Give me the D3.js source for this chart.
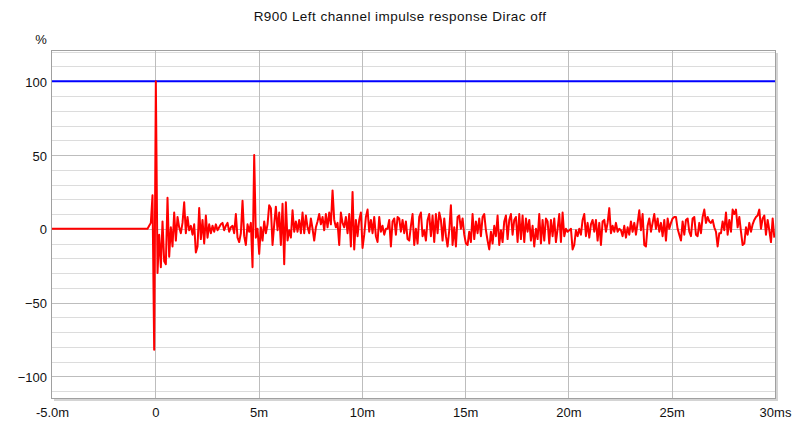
<!DOCTYPE html>
<html>
<head>
<meta charset="utf-8">
<script src="https://cdn.jsdelivr.net/npm/d3@7"></script>
<style>
  body { margin: 0; background: #fff; }
  text { font-family: "Liberation Sans", Arial, sans-serif; fill: #111; }
</style>
</head>
<body>
<div id="chart"></div>
<script>
// chart text
const title = "R900 Left channel impulse response Dirac off";
const yUnit = "%";
const xTicks = [-5, 0, 5, 10, 15, 20, 25, 30];
const xTickLabels = ["-5.0m", "0", "5m", "10m", "15m", "20m", "25m", "30ms"];
const yTicks = [100, 50, 0, -50, -100];
const referenceLevel = 100;   // blue line

// impulse samples
const leadInMs = -5.0;        // flat zero before the samples start
const firstSampleMs = -0.78;
const sampleStepMs = 0.0807;

const seg0 = [0,0,0,0,0,0,2,4,22.7,-82,100,-30,-4,-26,5,-22,-24,21,-19,1,-12,11,-8,8,1,-3,4,18,-3,8,-1,2,-4,3,-16,-12,14,-7,6,-10,9,-6,3,-3,2,-2,3,-1,1,3,4,-1,2,4,-2,1,2,-3,10,-6,-9,-3,19];
const seg1 = [-5,-11,3,-2,4,-26,50,-6,0,-17,1,-8,5,-3,3,16,14,-11,3,15,-1,11,-11,17,-24,18,-8,-1,-6,12.5,-2,5,-2,6,-3,11,-3,9,1,-3,7,0,-8,1,5,10,3,8,-1,10,1,11,3,26,6,1,4,-11,11,4,1,8,-3];
const seg2 = [10,-12,25,-14,6,-5,6,11,-13,-4,8,13,-2,6,-3,8,-5,-9,8,-2,2,-4,0,0,6,-12,5,7,-4,8,7,-2,6,-3,5,-7,-8,2,10,-11,0,-10,8,11,-5,-1,-8,6,10,-5,9,-9,10,-3,11,6,-8,7,-5,-12,-1,16,-11];
const seg3 = [1,-12,8,9,0,7,-4,-10,-11,-2,-9,10,-7,5,-3,7,-5,8,10,-1,-8,-14,-2,-10,2,-5,9,-11,-1,-9,5,9,-7,6,10,-4,6,8,-9,10,-7,9,-9,7,-2,6,-8,2,-12,0,-7,10,-10,6,-8,7,5,-10,6,-5,7,-9,0];
const seg4 = [10,-9,11,-5,0,-2,-1,0,-14,-11,-1,-5,0,-4,6,10,-5,4,-6,3,6,-2,6,-8,4,-11,5,6,-2,4,14,-3,2,-2,4,-2,0,-1,-5,2,-6,1,-4,5,-2,4,-4,4,12.5,-1,10,-11,-12,2,7,-2,4,10,0,7,-2,4,-5];
const seg5 = [6,-8,7,0,4,7,8,8,0,-4,-8,5,-4,6,7,-2,-5,7,8,-4,-5,4,-3,8,13,4,8,5,4,6,1,-2,-12,-3,-3,5,-1,11,-4,6,-2,13,10,13,1,8,-2,-11,-10,1,-4,4,-2,3,6,8,9,13,0,7,9,-4,6,-1,-9,7,-6];

const samples = [].concat(seg0, seg1, seg2, seg3, seg4, seg5);

const W = 800, H = 426;
const margin = { top: 51, right: 25, bottom: 28, left: 52 };
const iw = W - margin.left - margin.right;
const ih = H - margin.top - margin.bottom;

const svg = d3.select("#chart").append("svg")
    .attr("width", W).attr("height", H);

const x = d3.scaleLinear().domain([-5, 30]).range([0, iw]);
const y = d3.scaleLinear().domain([-114.7, 120.5]).range([ih, 0]);

svg.append("text")
    .attr("x", 400).attr("y", 21)
    .attr("text-anchor", "middle")
    .style("font-size", "13.5px")
    .style("letter-spacing", "0.45px")
    .text(title);

svg.append("text")
    .attr("x", 41).attr("y", 44)
    .attr("text-anchor", "middle")
    .style("font-size", "13px")
    .text(yUnit);

const g = svg.append("g").attr("transform", `translate(${margin.left},${margin.top})`);

// frame shadow
g.append("rect")
    .attr("x", 2).attr("y", 2).attr("width", iw + 1).attr("height", ih + 1)
    .attr("fill", "#d4d4d4");
g.append("rect")
    .attr("width", iw).attr("height", ih)
    .attr("fill", "#fff");

// minor horizontal grid every 10
g.append("g").selectAll("line")
    .data(d3.range(-110, 121, 10).filter(v => v % 50 !== 0))
    .join("line")
    .attr("x1", 0).attr("x2", iw)
    .attr("y1", d => Math.round(y(d)) + 0.5).attr("y2", d => Math.round(y(d)) + 0.5)
    .attr("stroke", "#dcdcdc");

// major grid
g.append("g").selectAll("line")
    .data(yTicks)
    .join("line")
    .attr("x1", 0).attr("x2", iw)
    .attr("y1", d => Math.round(y(d)) + 0.5).attr("y2", d => Math.round(y(d)) + 0.5)
    .attr("stroke", "#bdbdbd");
g.append("g").selectAll("line")
    .data(xTicks.slice(1, -1))
    .join("line")
    .attr("y1", 0).attr("y2", ih)
    .attr("x1", d => Math.round(x(d)) + 0.5).attr("x2", d => Math.round(x(d)) + 0.5)
    .attr("stroke", "#bdbdbd");

// axes (labels only)
const yAxis = g.append("g")
    .call(d3.axisLeft(y).tickValues(yTicks).tickSize(0).tickPadding(5));
yAxis.select(".domain").remove();
yAxis.selectAll("text").style("font-size", "13px").attr("font-family", null).attr("dy", "0.4em");

const xAxis = g.append("g").attr("transform", `translate(0,${ih})`)
    .call(d3.axisBottom(x).tickValues(xTicks).tickSize(0).tickPadding(10)
        .tickFormat((d, i) => xTickLabels[i]));
xAxis.select(".domain").remove();
xAxis.selectAll("text").style("font-size", "13px").attr("font-family", null);

// reference line
g.append("line")
    .attr("x1", 0).attr("x2", iw)
    .attr("y1", y(referenceLevel)).attr("y2", y(referenceLevel))
    .attr("stroke", "#0000ff").attr("stroke-width", 2);

// impulse
const points = [[leadInMs, 0]].concat(samples.map((v, i) => [firstSampleMs + i * sampleStepMs, v]))
    .filter(p => p[0] <= 30);
const line = d3.line().x(d => x(d[0])).y(d => y(d[1]));
g.append("path")
    .datum(points)
    .attr("d", line)
    .attr("fill", "none")
    .attr("stroke", "#ff0000")
    .attr("stroke-width", 2)
    .attr("stroke-linejoin", "round");

// frame border
g.append("rect")
    .attr("x", -0.5).attr("y", -0.5).attr("width", iw + 1).attr("height", ih + 1)
    .attr("fill", "none")
    .attr("stroke", "#a0a0a0");
</script>
</body>
</html>
